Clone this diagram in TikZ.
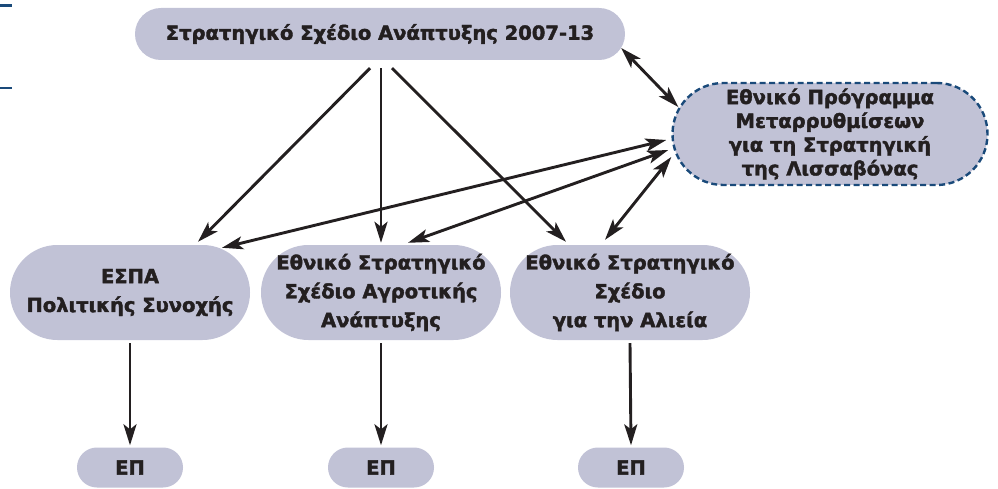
\documentclass[tikz,border=0pt]{standalone}
\usepackage{fontspec}
\setmainfont{DejaVu Sans}[BoldFeatures={FakeBold=2}]
\usetikzlibrary{arrows.meta,calc}
\definecolor{pillfill}{RGB}{193,194,214}
\definecolor{inkc}{RGB}{35,31,32}
\definecolor{dashblue}{RGB}{26,74,122}
\tikzset{
  pill/.style={fill=pillfill, inner sep=0pt, align=center, text=inkc,
    font=\bfseries\fontsize{19.5}{28.8}\selectfont},
  tip/.tip={Stealth[length=21pt,width=13pt,inset=5pt]},
  conn/.style={draw=inkc, line width=2.9pt, -tip},
  dconn/.style={draw=inkc, line width=2.9pt, tip-tip},
}
\begin{document}
\begin{tikzpicture}[x=1pt,y=1pt]
\useasboundingbox (0,0) rectangle (998,-489);
% top-left marks
\coordinate (m1a) at (0,-5.5); \coordinate (m1b) at (12,-5.5);
\coordinate (m2a) at (0,-88); \coordinate (m2b) at (12,-88);
\draw[dashblue, line width=2.5pt] (m1a) -- (m1b);
\draw[dashblue, line width=2.5pt] (m2a) -- (m2b);
% nodes
\node[pill, minimum width=490pt, minimum height=52pt, rounded corners=25.9pt] (top) at (380,-34) {Στρατηγικό Σχέδιο Ανάπτυξης 2007-13};
\node[pill, minimum width=315pt, minimum height=102pt, rounded corners=50.9pt, draw=dashblue, line width=2.4pt, dash pattern=on 6pt off 3.5pt,
  font=\bfseries\fontsize{19.5}{23.8}\selectfont] (lis) at (830,-134) {Εθνικό Πρόγραμμα\\Μεταρρυθμίσεων\\για τη Στρατηγική\\της Λισσαβόνας};
\node[pill, minimum width=240pt, minimum height=95pt, rounded corners=47.4pt] (espa) at (130,-292.5) {ΕΣΠΑ\\Πολιτικής Συνοχής};
\node[pill, minimum width=240pt, minimum height=95pt, rounded corners=47.4pt] (agro) at (381,-292.5) {Εθνικό Στρατηγικό\\Σχέδιο Αγροτικής\\Ανάπτυξης};
\node[pill, minimum width=240pt, minimum height=95pt, rounded corners=47.4pt] (alie) at (630,-292.5) {Εθνικό Στρατηγικό\\Σχέδιο\\για την Αλιεία};
\node[pill, minimum width=106pt, minimum height=40pt, rounded corners=19.9pt] (ep1) at (130,-467.5) {ΕΠ};
\node[pill, minimum width=106pt, minimum height=40pt, rounded corners=19.9pt] (ep2) at (381,-467.5) {ΕΠ};
\node[pill, minimum width=106pt, minimum height=40pt, rounded corners=19.9pt] (ep3) at (631,-467.5) {ΕΠ};
% arrows from top
\draw[conn] ($(top.south)+(-10,-8)$) -- ($(espa.north)+(68,3)$);
\draw[conn] ($(top.south)+(1,-8)$) -- ($(agro.north)+(0,2)$);
\draw[conn] ($(top.south)+(12,-8)$) -- ($(alie.north)+(-64,3)$);
% double arrows with Lisbon node
\draw[dconn] ($(top.east)+(-4,-14)$) -- ($(lis.west)+(7,27)$);
\draw[dconn] ($(espa.north)+(92,-3)$) -- ($(lis.west)+(-5,-6)$);
\draw[dconn] ($(agro.north)+(27,2)$) -- ($(lis.west)+(-3,-16)$);
\draw[dconn] ($(alie.north)+(-25,5)$) -- ($(lis.west)+(0,-23)$);
% down arrows
\draw[conn] ($(espa.south)+(0,-3)$) -- ($(ep1.north)+(0,2)$);
\draw[conn] ($(agro.south)+(0,-3)$) -- ($(ep2.north)+(0,2)$);
\draw[conn] ($(alie.south)+(0,-3)$) -- ($(ep3.north)+(0,2)$);
\end{tikzpicture}
\end{document}
